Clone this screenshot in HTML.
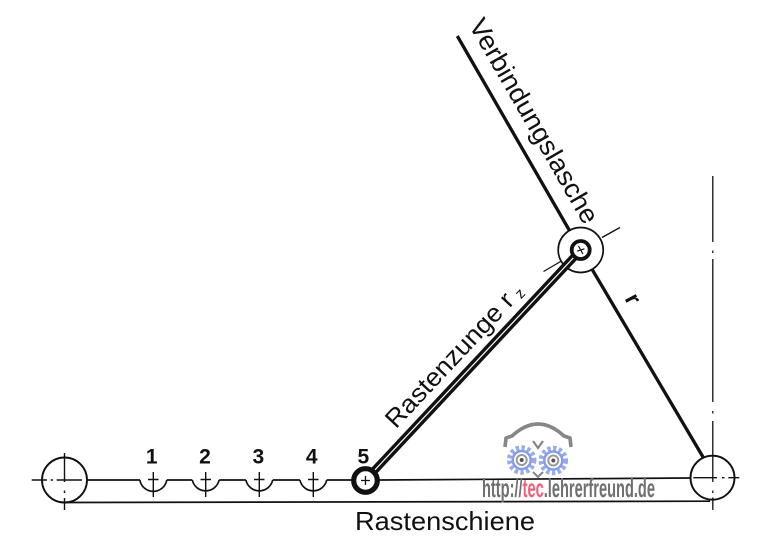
<!DOCTYPE html>
<html><head><meta charset="utf-8"><style>
html,body{margin:0;padding:0;background:#fff;}
svg{display:block;}
text{font-family:"Liberation Sans",Arial,sans-serif;}
</style></head><body>
<svg width="772" height="550" viewBox="0 0 772 550" xmlns="http://www.w3.org/2000/svg">
<rect width="772" height="550" fill="#fff"/>
<g stroke="#111" fill="none" stroke-linecap="butt">
  <!-- rails -->
  <path d="M86.5,480 L140,480 M166.8,480 L192.3,480 M219.1,480 L245.9,480 M272.7,480 L299.9,480 M326.7,480 L352,480 M379,480 L690.5,478" stroke-width="1.7"/>
  <path d="M65,502.5 L710,501.2" stroke-width="1.7"/>
  <!-- notches -->
  <path d="M139.8,480 A13.7,13.7 0 0 0 166.8,480" stroke-width="1.7"/>
  <path d="M192.3,480 A13.7,13.7 0 0 0 219.1,480" stroke-width="1.7"/>
  <path d="M245.9,480 A13.7,13.7 0 0 0 272.7,480" stroke-width="1.7"/>
  <path d="M299.9,480 A13.7,13.7 0 0 0 326.7,480" stroke-width="1.7"/>
  <!-- notch crosses -->
  <g stroke-width="1.4">
    <path d="M153.3,472 L153.3,497 M148,479.5 L158.5,479.5"/>
    <path d="M205.7,472 L205.7,497 M200.5,479.5 L211,479.5"/>
    <path d="M259.3,472 L259.3,497 M254,479.5 L264.5,479.5"/>
    <path d="M313.3,472 L313.3,497 M308,479.5 L318.5,479.5"/>
  </g>
  <!-- left circle -->
  <circle cx="64.5" cy="480" r="22.5" stroke-width="1.9"/>
  <path d="M31.7,480 L47,480 M50.7,480 L53,480 M56.7,480 L82,480" stroke-width="1.4"/>
  <path d="M64.5,453 L64.5,482 M64.5,490.5 L64.5,493 M64.5,498 L64.5,510" stroke-width="1.4"/>
  <!-- right circle -->
  <circle cx="712.5" cy="477.7" r="22" stroke-width="1.9"/>
  <path d="M693.3,477.7 L717,477.7 M722,477.7 L724.5,477.7 M728.3,477.7 L739.3,477.7" stroke-width="1.4"/>
  <path d="M712.8,176 L712.8,242 M712.8,250.5 L712.8,253 M712.8,259 L712.8,402 M712.8,411 L712.8,413.5 M712.8,421 L712.8,482 M712.8,490.5 L712.8,493 M712.8,497.5 L712.8,510" stroke-width="1.3"/>
  <!-- long line (Verbindungslasche + r) -->
  <path d="M457.3,36 L580.7,250 L703,457" stroke-width="3.3"/>
  <!-- pivot outer circle -->
  <circle cx="580.7" cy="250" r="22.5" fill="#fff" stroke-width="1.7"/>
  <!-- Rastenzunge -->
  <path d="M365.5,480 L580.7,250" stroke-width="8"/>
  <path d="M365.5,480 L580.7,250" stroke="#fff" stroke-width="1.2"/>
  <!-- tick lines at pivot -->
  <path d="M602,237.5 L620,227.5 M561.5,261 L543.5,271.5" stroke-width="1.3"/>
  <!-- pivot inner ring -->
  <circle cx="580.7" cy="250" r="9" fill="#fff" stroke-width="3.8"/>
  <path d="M578.5,246 L582.9,254 M577,251.2 L584.4,248.8" stroke-width="1.2"/>
  <!-- ring 5 -->
  <circle cx="365.5" cy="480.5" r="11.8" fill="#fff" stroke-width="5.2"/>
  <path d="M365.5,476 L365.5,485 M361,480.5 L370,480.5" stroke-width="1.3"/>
</g>

<!-- numbers -->
<g font-weight="bold" font-size="21" fill="#111" text-anchor="middle">
  <text x="151.7" y="463.5">1</text>
  <text x="205" y="463.5">2</text>
  <text x="258.3" y="463.5">3</text>
  <text x="311.7" y="463.5">4</text>
  <text x="363.3" y="463.5">5</text>
</g>

<!-- labels -->
<text x="355" y="530" font-size="26" fill="#111" textLength="180" lengthAdjust="spacingAndGlyphs">Rastenschiene</text>
<text transform="translate(395.9,429.5) rotate(-46.8)" x="0" y="0" font-size="25.5" fill="#111" textLength="175" lengthAdjust="spacingAndGlyphs">Rastenzunge r</text>
<text transform="translate(521,299.5) rotate(-46.8)" x="0" y="0" font-size="15" fill="#111">z</text>
<text transform="translate(468.3,25) rotate(60)" x="0" y="0" font-size="26.5" fill="#111" textLength="232" lengthAdjust="spacingAndGlyphs">Verbindungslasche</text>
<text transform="translate(624.3,298.5) rotate(62)" x="0" y="0" font-size="23" font-weight="bold" fill="#111">r</text>

<!-- watermark owl -->
<g>
  <path d="M505,447 L506,438 L512,436 Q538,412 564,436 L570,438 L571,447" fill="none" stroke="#868686" stroke-width="3.6" stroke-linejoin="round"/>
  <path d="M533,441 L538,448 L543,441" fill="none" stroke="#868686" stroke-width="2.2"/>
  <circle cx="521.7" cy="460" r="12" fill="none" stroke="#97abea" stroke-width="5.5" stroke-dasharray="3.2 2.4"/>
  <circle cx="521.7" cy="460" r="9" fill="#fff" stroke="#869ce4" stroke-width="2.5"/>
  <circle cx="521.7" cy="460" r="5" fill="#fff" stroke="#9a9a9a" stroke-width="2"/>
  <circle cx="521.7" cy="460" r="2" fill="#555"/>
  <circle cx="553.3" cy="460.5" r="12" fill="none" stroke="#97abea" stroke-width="5.5" stroke-dasharray="3.2 2.4"/>
  <circle cx="553.3" cy="460.5" r="9" fill="#fff" stroke="#869ce4" stroke-width="2.5"/>
  <circle cx="553.3" cy="460.5" r="5" fill="#fff" stroke="#9a9a9a" stroke-width="2"/>
  <circle cx="553.3" cy="460.5" r="2" fill="#555"/>
  <path d="M533,472 L538,477 L543,472" fill="none" stroke="#868686" stroke-width="2"/>
</g>
<text x="482" y="497" font-size="26" font-weight="bold" fill="#707070" textLength="173" lengthAdjust="spacingAndGlyphs">http://<tspan fill="#f0607c">tec</tspan>.lehrerfreund.de</text>
</svg>
</body></html>
